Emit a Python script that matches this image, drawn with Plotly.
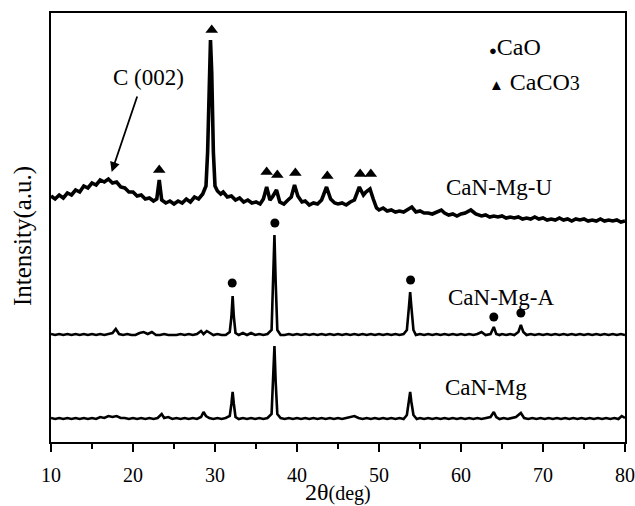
import plotly.graph_objects as go

# ---- data (2θ in degrees, intensity in arbitrary units) ----
u_x = [10.0,10.5,11.0,11.5,12.0,12.5,13.0,13.5,14.0,14.5,15.0,15.5,16.0,16.5,17.0,17.5,18.0,18.5,19.0,19.5,
       20.0,20.5,21.0,21.5,22.0,22.5,22.9,23.2,23.5,24.0,24.5,25.0,25.5,26.0,26.5,27.0,27.5,28.0,28.5,28.9,
       29.1,29.3,29.45,29.6,29.8,30.0,30.3,30.7,31.0,31.5,32.0,32.5,33.0,33.5,34.0,34.5,35.0,35.5,35.9,36.3,
       36.7,37.0,37.5,37.9,38.4,38.9,39.3,39.7,40.1,40.6,41.0,41.5,42.0,42.5,43.0,43.6,44.1,44.6,45.0,45.5,
       46.0,46.5,47.0,47.6,48.1,48.4,48.9,49.3,49.7,50.0,50.5,51.0,51.5,52.0,52.5,53.0,53.5,54.0,54.5,55.0,
       55.5,56.0,56.5,57.0,57.6,58.0,58.5,59.0,59.5,60.0,60.5,61.2,61.8,62.5,63.0,63.5,64.0,64.5,65.0,65.5,
       66.0,66.5,67.0,67.5,68.0,68.5,69.0,69.5,70.0,70.5,71.0,71.5,72.0,72.5,73.0,73.5,74.0,74.5,75.0,75.5,
       76.0,76.5,77.0,77.5,78.0,78.5,79.0,79.5,80.0]
u_y = [246,243,247,244,249,247,252,250,256,254,259,257,262,260,263,259,260,255,254,250,
       250,246,247,243,244,241,243,262,242,239,241,238,241,239,243,240,245,243,248,256,
       290,370,402,370,290,256,251,248,250,245,246,242,244,240,242,239,240,238,243,255,
       242,245,252,240,238,242,245,257,246,240,241,237,239,238,242,255,243,239,238,239,
       237,240,242,255,247,250,253,243,234,232,234,231,232,230,231,230,232,235,230,231,
       229,229,228,230,232,229,227,228,226,228,229,232,228,226,227,225,226,225,226,224,
       225,224,225,223,224,223,225,223,224,222,223,222,224,222,223,221,223,222,223,221,
       222,221,223,221,222,221,222,220,221]

a_x = [10.0,10.5,11.0,11.5,12.0,12.5,13.0,13.5,14.0,14.5,15.0,15.5,16.0,16.5,17.0,17.5,17.9,18.3,18.8,19.3,
       19.8,20.3,20.8,21.3,21.8,22.3,22.8,23.3,23.8,24.3,24.8,25.3,25.8,26.3,26.8,27.3,27.8,28.3,28.6,29.0,
       29.4,29.8,30.3,30.8,31.3,31.8,32.0,32.15,32.3,32.5,32.9,33.4,33.9,34.4,34.9,35.4,35.9,36.4,36.9,37.1,
       37.25,37.4,37.6,38.0,38.5,39.0,39.5,40.0,40.5,41.0,41.5,42.0,42.5,43.0,43.5,44.0,44.5,45.0,45.5,46.0,
       46.5,47.0,47.5,48.0,48.5,49.0,49.5,50.0,50.5,51.0,51.5,52.0,52.5,53.0,53.4,53.65,53.8,53.95,54.2,54.5,
       55.0,55.5,56.0,56.5,57.0,57.5,58.0,58.5,59.0,59.5,60.0,60.5,61.0,61.5,62.0,62.5,63.0,63.6,64.0,64.3,
       64.7,65.0,65.5,66.0,66.5,67.0,67.3,67.6,68.0,68.5,69.0,69.5,70.0,70.5,71.0,71.5,72.0,72.5,73.0,73.5,
       74.0,74.5,75.0,75.5,76.0,76.5,77.0,77.5,78.0,78.5,79.0,79.5,80.0]
a_y = [108,107,108,107,108,107,108,107,108,107,108,107,108,107,108,109,113,108,107,108,
       107,107,109,110,108,110,107,107,108,107,107,107,108,107,108,107,108,111,108,111,
       109,107,108,107,107,110,125,146,125,109,107,109,107,109,107,108,107,108,112,160,
       207,160,112,107,107,108,107,108,107,108,107,108,107,108,107,108,107,108,107,108,
       107,108,107,108,107,108,107,108,107,108,107,108,107,108,112,135,150,135,112,107,
       108,107,108,107,108,107,108,107,108,107,108,107,108,107,108,110,107,108,115,108,
       107,108,107,108,107,110,117,110,107,108,107,108,107,108,107,108,107,108,107,108,
       107,108,107,108,107,108,107,108,107,108,107,108,107]

m_x = [10.0,10.5,11.0,11.5,12.0,12.5,13.0,13.5,14.0,14.5,15.0,15.5,16.0,16.5,17.0,17.5,18.0,18.5,19.0,19.5,
       20.0,20.5,21.0,21.5,22.0,22.5,23.0,23.5,23.8,24.3,24.8,25.3,25.8,26.3,26.8,27.3,27.8,28.3,28.6,28.9,
       29.3,29.8,30.3,30.8,31.3,31.8,32.0,32.15,32.3,32.5,32.9,33.4,33.9,34.4,34.9,35.4,35.9,36.4,36.9,37.1,
       37.25,37.4,37.6,38.0,38.5,39.0,39.5,40.0,40.5,41.0,41.5,42.0,42.5,43.0,43.5,44.0,44.5,45.0,45.5,46.0,
       46.5,47.0,47.5,48.0,48.5,49.0,49.5,50.0,50.5,51.0,51.5,52.0,52.5,53.0,53.4,53.65,53.8,53.95,54.2,54.6,
       55.0,55.5,56.0,56.5,57.0,57.5,58.0,58.5,59.0,59.5,60.0,60.5,61.0,61.5,62.0,62.5,63.0,63.6,64.0,64.3,
       64.7,65.2,65.7,66.2,66.7,67.3,67.7,68.2,68.7,69.2,69.7,70.2,70.7,71.2,71.7,72.2,72.7,73.2,73.7,74.2,
       74.7,75.2,75.7,76.2,76.7,77.2,77.7,78.2,78.7,79.2,79.6,80.0]
m_y = [24,23,24,23,24,23,24,23,24,23,24,23,25,24,26,25,26,24,24,23,
       24,23,24,23,24,23,24,28,24,25,23,24,23,24,23,24,23,25,30,26,
       24,23,24,23,24,26,38,50,38,25,23,24,23,24,23,24,23,24,28,60,
       96,60,28,24,23,24,23,24,23,24,23,24,23,24,23,24,23,24,23,24,
       25,26,24,23,24,23,24,23,24,23,24,23,24,23,27,40,50,40,27,23,
       24,23,24,23,24,23,24,23,24,23,24,23,24,23,24,23,24,25,30,25,
       23,24,23,24,25,29,24,23,24,23,24,23,24,23,24,23,24,23,24,23,
       24,23,24,23,24,23,24,23,24,23,26,24]

caco3_x = [23.2, 29.6, 36.3, 37.6, 39.8, 43.7, 47.7, 49.0]
caco3_y = [272, 412, 270, 267, 269, 266, 268, 268]
cao_x = [32.1, 37.3, 53.85, 64.0, 67.3]
cao_y = [159, 219, 162, 125, 129]

sample_names = ["CaN-Mg-U", "CaN-Mg-A", "CaN-Mg"]
label_x = [64.6, 64.9, 63.0]
label_y = [255, 145, 55]

x_ticks = [10, 20, 30, 40, 50, 60, 70, 80]

FONT = "Liberation Serif"

fig = go.Figure()
for xs, ys, w in [(u_x, u_y, 3.6), (a_x, a_y, 2.6), (m_x, m_y, 2.6)]:
    fig.add_trace(go.Scatter(x=xs, y=ys, mode="lines",
                             line=dict(color="black", width=w), showlegend=False,
                             hoverinfo="skip"))
fig.add_trace(go.Scatter(x=caco3_x, y=caco3_y, mode="markers",
                         marker=dict(symbol="triangle-up", size=11, color="black"),
                         showlegend=False))
fig.add_trace(go.Scatter(x=cao_x, y=cao_y, mode="markers",
                         marker=dict(symbol="circle", size=9, color="black"),
                         showlegend=False))

for name, lx, ly in zip(sample_names, label_x, label_y):
    fig.add_annotation(x=lx, y=ly, xref="x", yref="y", text=name, showarrow=False,
                       font=dict(family=FONT, size=23, color="black"))

# C (002) arrow
fig.add_annotation(x=17.4, y=270, xref="x", yref="y", ax=26, ay=-77,
                   showarrow=True, arrowhead=2, arrowsize=1.1, arrowwidth=1.8,
                   arrowcolor="black", text="")
fig.add_annotation(x=21.9, y=365, xref="x", yref="y", text="C (002)", showarrow=False,
                   font=dict(family=FONT, size=23, color="black"))

# legend-like labels
fig.add_annotation(x=63.2, y=395, xref="x", yref="y", xanchor="left",
                   text="<span style='font-size:13px'>●</span>CaO",
                   showarrow=False, font=dict(family=FONT, size=24, color="black"))
fig.add_annotation(x=63.2, y=360, xref="x", yref="y", xanchor="left",
                   text="<span style='font-size:15px'>▲</span> CaCO<span style='font-size:20px'>3</span>",
                   showarrow=False, font=dict(family=FONT, size=24, color="black"))

# axis titles
fig.add_annotation(x=0.5, y=0, xref="paper", yref="paper", yanchor="top", yshift=-35,
                   text="2θ<span style='font-size:20px'>(deg)</span>", showarrow=False,
                   font=dict(family=FONT, size=24, color="black"))
fig.add_annotation(x=0, y=0.48, xref="paper", yref="paper", xanchor="center", xshift=-28,
                   textangle=-90, text="Intensity(a.u.)", showarrow=False,
                   font=dict(family=FONT, size=25, color="black"))

fig.update_layout(
    width=635, height=506,
    margin=dict(l=51, r=10, t=13, b=64),
    paper_bgcolor="white", plot_bgcolor="white",
    font=dict(family=FONT, color="black"),
    showlegend=False,
    xaxis=dict(range=[10, 80], tickvals=x_ticks, ticks="outside", ticklen=8, tickwidth=1.5,
               tickcolor="black", showline=True, linecolor="black", linewidth=1.8, mirror=True,
               showgrid=False, zeroline=False, tickfont=dict(family=FONT, size=20),
               ticklabelstandoff=6, automargin=False,
               minor=dict(dtick=5, ticks="outside", ticklen=5, tickwidth=1.5, tickcolor="black",
                          showgrid=False)),
    yaxis=dict(range=[0, 429], showticklabels=False, ticks="", showline=True, linecolor="black",
               linewidth=1.8, mirror=True, showgrid=False, zeroline=False, automargin=False),
)

fig.write_html("out.html", config={"displayModeBar": False},
               post_script="document.body.style.margin='0';document.body.style.overflow='hidden';")
